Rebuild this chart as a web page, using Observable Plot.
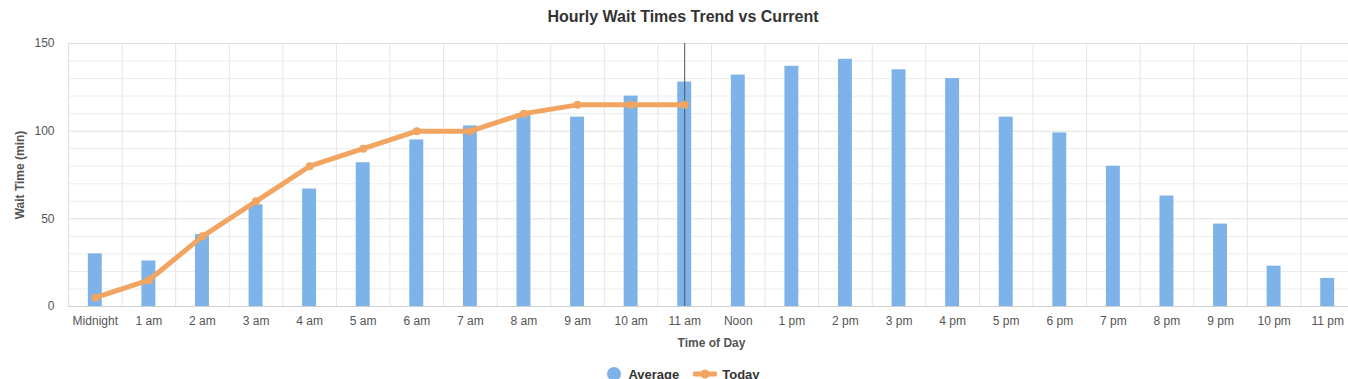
<!DOCTYPE html>
<html><head><meta charset="utf-8">
<script src="https://cdn.jsdelivr.net/npm/d3@7"></script>
<script src="https://cdn.jsdelivr.net/npm/@observablehq/plot@0.6"></script>
<style>
html,body{margin:0;padding:0;background:#fff;overflow:hidden;width:1348px;height:379px;font-family:"Liberation Sans",Arial,sans-serif;}
#title{height:34px;line-height:34px;text-align:center;font-weight:bold;font-size:16px;color:#333;width:1366px;}
#chart{height:330px;width:1354px;}
#chart svg{max-width:none !important;}
#legend{position:absolute;top:364px;left:0;width:1366px;height:20px;display:flex;justify-content:center;align-items:center;font-weight:bold;font-size:13px;color:#333;}
#legend .item{display:flex;align-items:center;margin:0 6px;}
</style></head>
<body>
<div id="title">Hourly Wait Times Trend vs Current</div>
<div id="chart"></div>
<div id="legend">
  <span class="item"><svg width="16" height="16"><circle cx="8" cy="8" r="7" fill="#7db3e8"/></svg><span style="margin-left:6px">Average</span></span>
  <span class="item" style="margin-left:8px"><svg width="24" height="16"><line x1="2" x2="22" y1="8" y2="8" stroke="#f2a461" stroke-width="5" stroke-linecap="round"/><circle cx="12" cy="8" r="4.5" fill="#f2a461"/></svg><span style="margin-left:5px">Today</span></span>
</div>
<script>
const hours = ["Midnight","1 am","2 am","3 am","4 am","5 am","6 am","7 am","8 am","9 am","10 am","11 am","Noon","1 pm","2 pm","3 pm","4 pm","5 pm","6 pm","7 pm","8 pm","9 pm","10 pm","11 pm"];
const average = [30,26,41,58,67,82,95,103,110,108,120,128,132,137,141,135,130,108,99,80,63,47,23,16];
const todayHours = ["Midnight","1 am","2 am","3 am","4 am","5 am","6 am","7 am","8 am","9 am","10 am","11 am"];
const today = [5,15,40,60,80,90,100,100,110,115,115,115];
const currentHour = "11 am";
const yTicks = [0,50,100,150];
const yMinor = d3.range(0,151,10);

const avgData = hours.map((h,i)=>({hour:h, value:average[i]}));
const todayData = todayHours.map((h,i)=>({hour:h, value:today[i]}));

const W = 1354, ML = 68, MR = 0;
const step = (W-ML-MR)/hours.length;

const chart = Plot.plot({
  width: W, height: 330,
  marginLeft: ML, marginRight: MR, marginTop: 9, marginBottom: 58,
  style: {fontFamily: '"Liberation Sans", Arial, sans-serif', fontSize: "12px", color: "#555", background: "#fff", maxWidth: "none"},
  x: {type: "band", domain: hours, paddingInner: 0.74, paddingOuter: 0.37, round: false, label: null},
  y: {domain: [0,150], label: null},
  marks: [
    Plot.ruleY(yMinor.filter(v=>v%50!==0), {y: d=>d, stroke: "#ececec"}),
    Plot.ruleY([50,100,150], {y: d=>d, stroke: "#e0e0e0"}),
    Plot.ruleX(hours, {x: d=>d, dx: step/2, stroke: "#e4e4e4"}),
    Plot.ruleX([hours[0]], {x: d=>d, dx: -step/2, stroke: "#e0e0e0"}),
    Plot.barY(avgData, {x: "hour", y: "value", fill: "#7db3e8"}),
    Plot.ruleY([0], {stroke: "#cfcfcf"}),
    Plot.ruleX([currentHour], {x: d=>d, stroke: "#555", strokeWidth: 1}),
    Plot.line(todayData, {x: "hour", y: "value", stroke: "#f2a461", strokeWidth: 5, strokeLinejoin: "round", strokeLinecap: "round"}),
    Plot.dot(todayData, {x: "hour", y: "value", r: 4, fill: "#f2a461"}),
    Plot.axisX({tickSize: 0, tickPadding: 10, fontSize: 12, fill: "#555", label: null}),
    Plot.axisY(yTicks, {tickSize: 0, tickPadding: 14, fontSize: 12, fill: "#555", label: null}),
    Plot.text(["Time of Day"], {frameAnchor: "bottom", dy: 40, fontWeight: "bold", fontSize: 12, fill: "#555"}),
    Plot.text(["Wait Time (min)"], {frameAnchor: "left", textAnchor: "middle", dx: -48, rotate: -90, fontWeight: "bold", fontSize: 12, fill: "#555"})
  ]
});
document.getElementById("chart").appendChild(chart);
</script>
</body></html>
